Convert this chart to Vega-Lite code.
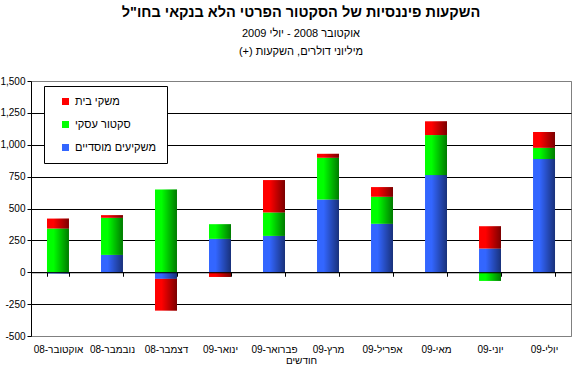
{
  "$schema": "https://vega.github.io/schema/vega-lite/v6.json",
  "width": 540,
  "height": 255,
  "autosize": {"type": "none"},
  "padding": {"left": 31, "top": 81, "right": 11, "bottom": 33},
  "background": "white",
  "config": {"view": {"stroke": "#808080", "strokeWidth": 1}, "font": "Liberation Sans"},
  "title": {
    "text": "השקעות פיננסיות של הסקטור הפרטי הלא בנקאי בחו\"ל",
    "subtitle": ["אוקטובר 2008 - יולי 2009\u00a0\u00a0\u00a0\u00a0\u00a0\u00a0\u00a0\u00a0\u00a0\u00a0\u00a0\u00a0\u00a0\u00a0\u00a0", "מיליוני דולרים, השקעות (+)\u200f\u00a0\u00a0\u00a0\u00a0\u00a0\u00a0\u00a0\u00a0\u00a0\u00a0\u00a0\u00a0\u00a0\u00a0\u00a0\u00a0"],
    "anchor": "middle",
    "fontSize": 14.5,
    "fontWeight": "bold",
    "color": "black",
    "subtitleFontSize": 11,
    "subtitleColor": "black",
    "subtitleLineHeight": 18,
    "subtitlePadding": 8,
    "offset": 18
  },
  "data": {"values": [
    {"month": "אוקטובר-08", "series": "משקיעים מוסדיים", "order": 1, "value": -10},
    {"month": "אוקטובר-08", "series": "סקטור עסקי", "order": 2, "value": 343},
    {"month": "אוקטובר-08", "series": "משקי בית", "order": 3, "value": 78},
    {"month": "נובמבר-08", "series": "משקיעים מוסדיים", "order": 1, "value": 136},
    {"month": "נובמבר-08", "series": "סקטור עסקי", "order": 2, "value": 291},
    {"month": "נובמבר-08", "series": "משקי בית", "order": 3, "value": 21},
    {"month": "דצמבר-08", "series": "משקיעים מוסדיים", "order": 1, "value": -52},
    {"month": "דצמבר-08", "series": "סקטור עסקי", "order": 2, "value": 650},
    {"month": "דצמבר-08", "series": "משקי בית", "order": 3, "value": -249},
    {"month": "ינואר-09", "series": "משקיעים מוסדיים", "order": 1, "value": 262},
    {"month": "ינואר-09", "series": "סקטור עסקי", "order": 2, "value": 115},
    {"month": "ינואר-09", "series": "משקי בית", "order": 3, "value": -37},
    {"month": "פברואר-09", "series": "משקיעים מוסדיים", "order": 1, "value": 285},
    {"month": "פברואר-09", "series": "סקטור עסקי", "order": 2, "value": 184},
    {"month": "פברואר-09", "series": "משקי בית", "order": 3, "value": 254},
    {"month": "מרץ-09", "series": "משקיעים מוסדיים", "order": 1, "value": 571},
    {"month": "מרץ-09", "series": "סקטור עסקי", "order": 2, "value": 327},
    {"month": "מרץ-09", "series": "משקי בית", "order": 3, "value": 31},
    {"month": "אפריל-09", "series": "משקיעים מוסדיים", "order": 1, "value": 380},
    {"month": "אפריל-09", "series": "סקטור עסקי", "order": 2, "value": 212},
    {"month": "אפריל-09", "series": "משקי בית", "order": 3, "value": 76},
    {"month": "מאי-09", "series": "משקיעים מוסדיים", "order": 1, "value": 762},
    {"month": "מאי-09", "series": "סקטור עסקי", "order": 2, "value": 314},
    {"month": "מאי-09", "series": "משקי בית", "order": 3, "value": 108},
    {"month": "יוני-09", "series": "משקיעים מוסדיים", "order": 1, "value": 186},
    {"month": "יוני-09", "series": "סקטור עסקי", "order": 2, "value": -68},
    {"month": "יוני-09", "series": "משקי בית", "order": 3, "value": 175},
    {"month": "יולי-09", "series": "משקיעים מוסדיים", "order": 1, "value": 888},
    {"month": "יולי-09", "series": "סקטור עסקי", "order": 2, "value": 88},
    {"month": "יולי-09", "series": "משקי בית", "order": 3, "value": 124}
  ]},
  "transform": [
    {"stack": "value", "groupby": ["month"], "sort": [{"field": "order", "order": "ascending"}], "as": ["v0", "v1"]}
  ],
  "encoding": {
    "x": {
      "field": "month",
      "type": "nominal",
      "sort": ["אוקטובר-08", "נובמבר-08", "דצמבר-08", "ינואר-09", "פברואר-09", "מרץ-09", "אפריל-09", "מאי-09", "יוני-09", "יולי-09"],
      "scale": {"paddingInner": 0.593, "paddingOuter": 0.296},
      "axis": {
        "title": "חודשים",
        "orient": "bottom",
        "offset": -63.75,
        "tickBand": "extent",
        "domainColor": "black",
        "tickColor": "black",
        "tickSize": 4,
        "labelPadding": 68,
        "labelAngle": 0,
        "labelFontSize": 10,
        "labelColor": "black",
        "titleFontSize": 10,
        "titleFontWeight": "normal",
        "titleColor": "black",
        "titlePadding": 1,
        "grid": false,
        "zindex": 1
      }
    },
    "y": {
      "field": "v1",
      "type": "quantitative",
      "scale": {"domain": [-500, 1500], "nice": false},
      "axis": {
        "values": [-500, -250, 0, 250, 500, 750, 1000, 1250, 1500],
        "title": null,
        "labelExpr": "replace(format(datum.value, ',d'), '−', '-')",
        "domainColor": "black",
        "tickColor": "black",
        "tickSize": 4,
        "labelPadding": 2,
        "labelFontSize": 10,
        "labelColor": "black",
        "grid": true,
        "gridColor": {"condition": {"test": "datum.value === 1500 || datum.value === -500", "value": "#808080"}, "value": "black"},
        "gridOpacity": 1,
        "zindex": 0
      }
    },
    "y2": {"field": "v0"}
  },
  "layer": [
    {
      "mark": {"type": "bar"},
      "encoding": {
        "color": {
          "field": "series",
          "type": "nominal",
          "scale": {"domain": ["משקי בית", "סקטור עסקי", "משקיעים מוסדיים"], "range": ["#FF0000", "#00FF00", "#3366FF"]},
          "legend": {
            "orient": "none",
            "legendX": 13,
            "legendY": 5,
            "title": null,
            "strokeColor": "black",
            "fillColor": "white",
            "padding": 10,
            "symbolType": "square",
            "symbolSize": 49,
            "symbolStrokeWidth": 0,
            "symbolOpacity": 1,
            "labelFontSize": 11,
            "labelColor": "black",
            "rowPadding": 11,
            "symbolOffset": 6,
            "labelOffset": 4
          }
        }
      }
    },
    {
      "mark": {
        "type": "bar",
        "fill": {"gradient": "linear", "x1": 0, "y1": 0, "x2": 1, "y2": 0, "stops": [
          {"offset": 0, "color": "rgba(0,0,0,0)"},
          {"offset": 0.3, "color": "rgba(0,0,0,0)"},
          {"offset": 1, "color": "rgba(0,0,0,0.52)"}
        ]}
      }
    }
  ]
}
